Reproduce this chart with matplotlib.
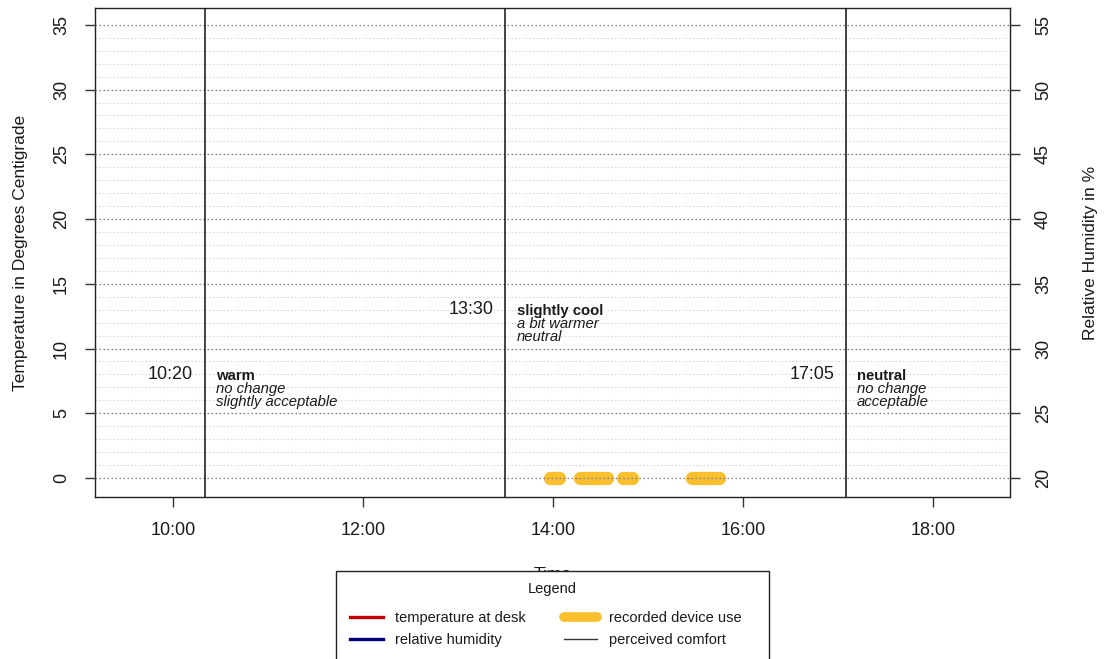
import matplotlib
matplotlib.use("Agg")
import matplotlib.pyplot as plt
from matplotlib.lines import Line2D
from matplotlib.patches import Rectangle
from matplotlib.ticker import FixedLocator, FuncFormatter

plt.rcParams["font.family"] = ["Liberation Sans", "DejaVu Sans"]

# ---- data -------------------------------------------------------------
comfort_times = ["10:20", "13:30", "17:05"]
comfort_sensation = ["warm", "slightly cool", "neutral"]
comfort_preference = ["no change", "a bit warmer", "no change"]
comfort_acceptance = ["slightly acceptable", "neutral", "acceptable"]
comfort_label_level = [8.0, 13.0, 8.0]

device_use_times = [
    "13:58", "14:00", "14:02", "14:04",
    "14:17", "14:19", "14:21", "14:23", "14:25", "14:27", "14:29", "14:31", "14:34",
    "14:44", "14:47", "14:50",
    "15:28", "15:30", "15:32", "15:34", "15:36", "15:38", "15:40", "15:42", "15:45",
]
device_use_level = 0.0

temp_ticks = [0, 5, 10, 15, 20, 25, 30, 35]
humidity_offset = 20  # humidity axis = temperature axis + 20
hour_ticks = [10, 12, 14, 16, 18]


def to_hours(hhmm):
    h, m = hhmm.split(":")
    return int(h) + int(m) / 60.0


W, H = 1106, 659
TXT = "#1a1a1a"

# ---- figure -----------------------------------------------------------
fig = plt.figure(figsize=(W / 100, H / 100), dpi=100)
ax = fig.add_axes([95 / W, 1 - 497 / H, 915 / W, 489 / H])

x_lo, x_hi = 9.18, 18.81
y_lo, y_hi = -1.47, 36.3
ax.set_xlim(x_lo, x_hi)
ax.set_ylim(y_lo, y_hi)

# grid: light minor lines each degree, darker dotted lines at major ticks
for v in range(0, 36):
    if v % 5 == 0:
        ax.axhline(v, color="#7a7a7a", lw=0.9, ls=(0, (1.2, 2.0)), zorder=3)
    else:
        ax.axhline(v, color="#d2d2d2", lw=0.8, ls=(0, (1.2, 2.0)), zorder=1)

# recorded device use
dev_x = [to_hours(t) for t in device_use_times]
ax.plot(dev_x, [device_use_level] * len(dev_x), "o", color="#F9BF2C",
        markersize=9.6, markeredgewidth=0, zorder=2)

# perceived comfort markers and notes
for t, s, p, a, lvl in zip(comfort_times, comfort_sensation, comfort_preference,
                           comfort_acceptance, comfort_label_level):
    xv = to_hours(t)
    ax.axvline(xv, color="#111111", lw=1.1, zorder=4)
    ax.annotate(t, (xv, lvl), xytext=(-8.5, 0), textcoords="offset points",
                ha="right", va="center", fontsize=13, color=TXT)
    ax.annotate(s, (xv, lvl), xytext=(8, -1), textcoords="offset points",
                ha="left", va="center", fontsize=10.7, fontweight="bold", color=TXT)
    ax.annotate(p, (xv, lvl), xytext=(8, -10.5), textcoords="offset points",
                ha="left", va="center", fontsize=10.7, style="italic", color=TXT)
    ax.annotate(a, (xv, lvl), xytext=(8, -20), textcoords="offset points",
                ha="left", va="center", fontsize=10.7, style="italic", color=TXT)

# axes styling
ax.xaxis.set_major_locator(FixedLocator(hour_ticks))
ax.xaxis.set_major_formatter(FuncFormatter(lambda v, _: f"{int(v):02d}:00"))
ax.yaxis.set_major_locator(FixedLocator(temp_ticks))
ax.tick_params(axis="both", direction="out", length=7.5, width=1.0,
               color="#333333", labelsize=13, labelcolor=TXT, pad=10.5)
for lab in ax.get_yticklabels():
    lab.set_rotation(90)
    lab.set_va("center")
for sp in ax.spines.values():
    sp.set_color("#222222")
    sp.set_linewidth(1.0)

ax.set_ylabel("Temperature in Degrees Centigrade", fontsize=12.5, color=TXT,
              labelpad=18)
ax.set_xlabel("Time", fontsize=12.5, color=TXT, labelpad=20)

# humidity axis on the right
ax2 = ax.twinx()
ax2.set_ylim(y_lo + humidity_offset, y_hi + humidity_offset)
ax2.yaxis.set_major_locator(FixedLocator([v + humidity_offset for v in temp_ticks]))
ax2.tick_params(axis="y", direction="out", length=7.5, width=1.0, color="#333333",
                labelsize=13, labelcolor=TXT, pad=10.5)
for lab in ax2.get_yticklabels():
    lab.set_rotation(90)
    lab.set_va("center")
for sp in ax2.spines.values():
    sp.set_visible(False)
ax2.set_ylabel("Relative Humidity in %", fontsize=12.5, color=TXT, labelpad=22)

# legend box (white panel over the lower margin)
fig.patches.append(Rectangle((336 / W, -0.02), 433 / W, 1 - 571 / H + 0.02,
                             transform=fig.transFigure, facecolor="white",
                             edgecolor="#222222", lw=1.0, zorder=8))
fig.text(552 / W, 1 - 589 / H, "Legend", ha="center", va="center",
         fontsize=10.5, color=TXT, zorder=9)

handles = [
    Line2D([], [], color="#C00000", lw=2.4),
    Line2D([], [], color="#00007A", lw=2.4),
    Line2D([], [], color="#F9BF2C", lw=7, solid_capstyle="round"),
    Line2D([], [], color="#333333", lw=1.0),
]
labels = ["temperature at desk", "relative humidity",
          "recorded device use", "perceived comfort"]
leg = fig.legend(handles, labels, ncol=2, loc="upper left",
                 bbox_to_anchor=(350 / W, 1 - 611 / H), fontsize=10.5,
                 frameon=False, handlelength=2.25, handletextpad=0.85,
                 columnspacing=2.6, labelspacing=0.58, borderpad=0,
                 borderaxespad=0)
for txt in leg.get_texts():
    txt.set_color(TXT)
leg.set_zorder(10)

fig.savefig("out.png", dpi=100, facecolor="white")
